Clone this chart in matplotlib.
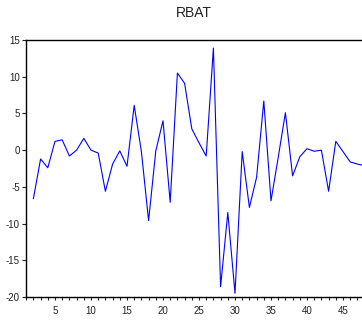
import matplotlib
matplotlib.use("Agg")
import matplotlib.pyplot as plt
from matplotlib.ticker import MultipleLocator

plt.rcParams['font.family'] = ['Liberation Sans', 'DejaVu Sans']
plt.rcParams['axes.unicode_minus'] = False

title = "RBAT"
obs = list(range(2, 49))
values = [-6.6, -1.2, -2.4, 1.2, 1.4, -0.8, 0.0, 1.6, 0.0, -0.4,
          -5.6, -1.9, -0.1, -2.2, 6.1, -0.2, -9.6, -0.1, 4.0, -7.1,
          10.5, 9.1, 2.9, 1.0, -0.8, 13.9, -18.6, -8.5, -19.5, -0.2,
          -7.8, -3.7, 6.7, -6.9, -1.0, 5.1, -3.5, -0.9, 0.2, -0.15,
          0.0, -5.6, 1.2, -0.2, -1.6, -1.9, -2.1]
yticks = [15, 10, 5, 0, -5, -10, -15, -20]
xticks = [5, 10, 15, 20, 25, 30, 35, 40, 45]

W, H = 362, 323
fig = plt.figure(figsize=(W / 100, H / 100), dpi=100)
left = 26.2 / W
bottom = 1 - 297 / H
top = 1 - 40 / H
ax = fig.add_axes([left, bottom, 1 - left, top - bottom])

ax.plot(obs, values, color='#0000ff', linewidth=0.8)

ax.set_xlim(1, 1 + (362 - 26.2) / 7.2)
ax.set_ylim(-20, 15)
ax.set_yticks(yticks)
ax.set_xticks(xticks)
ax.xaxis.set_minor_locator(MultipleLocator(1))

ax.tick_params(axis='y', direction='out', length=3, width=0.8, pad=1.5,
               labelsize=7, colors='#222222')
ax.tick_params(axis='x', which='both', direction='out', length=2.5, width=0.8,
               pad=4, labelsize=7, colors='#222222')

for s in ['left', 'top', 'bottom']:
    ax.spines[s].set_linewidth(1.0)
    ax.spines[s].set_color('black')
ax.spines['right'].set_visible(False)

ax.set_title(title, fontsize=10, pad=16.5, color='#222222')

fig.savefig("out.png", dpi=100)
